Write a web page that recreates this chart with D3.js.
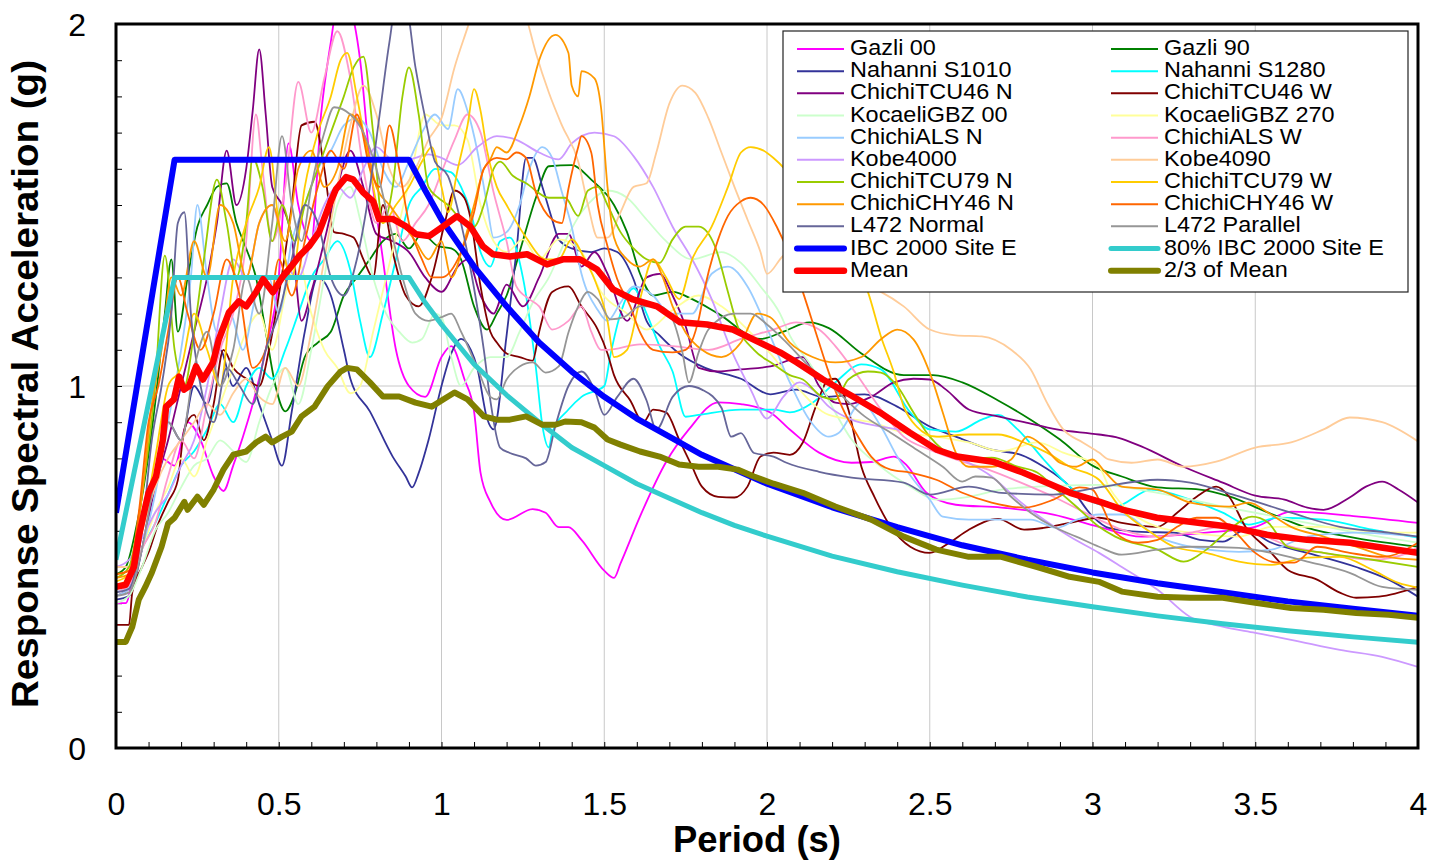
<!DOCTYPE html>
<html>
<head>
<meta charset="utf-8">
<script src="https://cdn.jsdelivr.net/npm/d3@7/dist/d3.min.js"></script>
<style>
  body { margin: 0; background: #fff; }
  svg { display: block; font-family: Arial, "Liberation Sans", sans-serif; }
  .axis path { display: none; }
  .axis line { stroke: #000; stroke-width: 1; }
  .axis text { font-size: 32px; fill: #000; }
  .grid line { stroke: #c8c8c8; stroke-width: 1; }
  .legend text { font-size: 21.5px; fill: #000; }
  .title { font-size: 36px; font-weight: bold; fill: #000; }
</style>
</head>
<body>
<div id="chart"></div>
<script>
// [period (s), spectral acceleration (g)]
const gazli00 = [[0,0.40],[0.03,0.40],[0.06,0.52],[0.1,0.68],[0.14,0.8],[0.18,0.78],[0.22,0.9],[0.26,0.85],[0.3,0.75],[0.33,0.71],[0.36,0.78],[0.39,0.86],[0.42,0.95],[0.46,1.1],[0.5,1.3],[0.53,1.67],[0.56,1.5],[0.6,1.4],[0.63,1.75],[0.66,1.95],[0.69,2.1],[0.72,2.05],[0.75,1.9],[0.78,1.62],[0.82,1.35],[0.86,1.1],[0.9,1.0],[0.95,0.97],[1.0,1.08],[1.03,1.11],[1.07,1.02],[1.1,0.93],[1.12,0.76],[1.15,0.68],[1.2,0.63],[1.28,0.66],[1.32,0.65],[1.36,0.61],[1.39,0.61],[1.43,0.575],[1.5,0.49],[1.53,0.47],[1.55,0.51],[1.61,0.64],[1.69,0.79],[1.76,0.88],[1.85,0.955],[1.92,0.95],[2.01,0.927],[2.07,0.88],[2.16,0.816],[2.26,0.788],[2.32,0.79],[2.39,0.805],[2.43,0.78],[2.49,0.705],[2.58,0.672],[2.72,0.664],[2.88,0.645],[3.02,0.611],[3.15,0.584],[3.35,0.595],[3.5,0.611],[3.61,0.653],[3.81,0.64],[4.0,0.622]];
const gazli90 = [[0,0.48],[0.03,0.5],[0.06,0.6],[0.09,0.75],[0.12,0.95],[0.15,1.2],[0.17,1.35],[0.19,1.15],[0.22,1.3],[0.25,1.44],[0.28,1.5],[0.31,1.55],[0.34,1.56],[0.37,1.45],[0.4,1.38],[0.43,1.3],[0.46,1.15],[0.49,1.0],[0.52,0.93],[0.55,0.98],[0.58,1.08],[0.62,1.12],[0.66,1.15],[0.7,1.25],[0.74,1.3],[0.78,1.35],[0.82,1.4],[0.86,1.42],[0.9,1.38],[0.94,1.42],[0.99,1.386],[1.03,1.38],[1.06,1.35],[1.1,1.22],[1.14,1.156],[1.17,1.2],[1.2,1.25],[1.24,1.37],[1.29,1.52],[1.33,1.607],[1.4,1.61],[1.46,1.57],[1.53,1.5],[1.57,1.425],[1.61,1.31],[1.65,1.25],[1.71,1.26],[1.77,1.24],[1.85,1.2],[1.98,1.13],[2.05,1.15],[2.13,1.176],[2.19,1.16],[2.29,1.09],[2.42,1.03],[2.51,1.03],[2.6,1.01],[2.71,0.96],[2.81,0.907],[2.9,0.852],[3.0,0.78],[3.09,0.75],[3.2,0.72],[3.33,0.714],[3.42,0.695],[3.54,0.65],[3.66,0.608],[3.81,0.58],[4.0,0.556]];
const nahanniS1010 = [[0,0.41],[0.04,0.42],[0.08,0.55],[0.12,0.75],[0.16,0.9],[0.2,0.85],[0.24,1.0],[0.28,0.95],[0.32,1.1],[0.36,1.0],[0.4,1.05],[0.44,0.95],[0.48,0.85],[0.51,0.78],[0.54,0.93],[0.58,1.15],[0.62,1.3],[0.66,1.25],[0.7,1.1],[0.72,1.02],[0.78,0.93],[0.85,0.805],[0.89,0.75],[0.91,0.72],[0.93,0.76],[0.96,0.85],[1.0,1.0],[1.03,1.09],[1.06,1.13],[1.09,1.1],[1.11,1.05],[1.14,0.91],[1.16,0.88],[1.2,1.14],[1.23,1.37],[1.26,1.63],[1.28,1.63],[1.31,1.55],[1.34,1.46],[1.36,1.405],[1.4,1.38],[1.46,1.37],[1.5,1.38],[1.54,1.37],[1.59,1.295],[1.63,1.18],[1.67,1.14],[1.73,1.09],[1.81,1.05],[1.92,1.02],[2.01,0.977],[2.09,0.99],[2.17,0.97],[2.3,0.977],[2.4,0.943],[2.5,0.888],[2.58,0.86],[2.69,0.824],[2.78,0.81],[2.85,0.777],[2.93,0.722],[3.0,0.64],[3.05,0.608],[3.15,0.597],[3.25,0.595],[3.33,0.575],[3.4,0.57],[3.47,0.603],[3.55,0.567],[3.66,0.539],[3.81,0.5],[3.91,0.465],[4.0,0.418]];
const nahanniS1280 = [[0,0.43],[0.04,0.45],[0.08,0.55],[0.12,0.62],[0.16,0.7],[0.2,0.78],[0.24,0.82],[0.28,0.88],[0.32,0.95],[0.36,0.9],[0.4,1.0],[0.44,1.05],[0.48,1.02],[0.52,1.1],[0.56,1.2],[0.6,1.3],[0.64,1.35],[0.68,1.4],[0.72,1.32],[0.75,1.18],[0.78,1.08],[0.82,1.2],[0.86,1.35],[0.9,1.5],[0.94,1.55],[0.98,1.6],[1.03,1.59],[1.06,1.55],[1.09,1.48],[1.12,1.37],[1.15,1.33],[1.18,1.4],[1.21,1.41],[1.25,1.3],[1.29,1.05],[1.31,0.89],[1.33,0.83],[1.34,0.87],[1.39,0.935],[1.43,0.97],[1.5,1.0],[1.52,1.09],[1.55,1.2],[1.59,1.27],[1.63,1.2],[1.67,1.11],[1.71,1.04],[1.75,0.915],[1.79,0.92],[1.92,0.935],[2.02,0.935],[2.07,0.927],[2.14,0.954],[2.21,1.01],[2.29,1.06],[2.35,1.046],[2.44,0.927],[2.5,0.88],[2.58,0.874],[2.66,0.907],[2.71,0.92],[2.77,0.88],[2.85,0.797],[2.93,0.722],[3.0,0.68],[3.07,0.667],[3.18,0.714],[3.3,0.686],[3.4,0.65],[3.48,0.617],[3.57,0.636],[3.71,0.631],[3.86,0.603],[4.0,0.581]];
const chichiTCU46N = [[0,0.42],[0.04,0.44],[0.08,0.55],[0.12,0.72],[0.16,0.85],[0.2,1.0],[0.24,1.15],[0.28,1.3],[0.31,1.45],[0.34,1.65],[0.37,1.5],[0.4,1.6],[0.42,1.76],[0.44,1.93],[0.46,1.75],[0.48,1.55],[0.51,1.5],[0.54,1.41],[0.57,1.18],[0.6,1.26],[0.64,1.4],[0.68,1.55],[0.72,1.65],[0.76,1.55],[0.8,1.42],[0.85,1.4],[0.9,1.37],[0.95,1.3],[1.0,1.26],[1.05,1.33],[1.08,1.35],[1.12,1.25],[1.16,1.2],[1.2,1.28],[1.25,1.22],[1.3,1.3],[1.36,1.42],[1.39,1.42],[1.43,1.33],[1.47,1.37],[1.51,1.31],[1.57,1.18],[1.63,1.3],[1.67,1.31],[1.71,1.25],[1.75,1.165],[1.79,1.05],[1.85,1.04],[1.92,1.046],[2.01,1.054],[2.11,1.08],[2.16,1.0],[2.21,0.954],[2.25,0.95],[2.32,0.97],[2.39,1.01],[2.45,1.02],[2.5,1.018],[2.55,0.99],[2.62,0.935],[2.71,0.916],[2.79,0.9],[2.89,0.88],[3.02,0.866],[3.08,0.857],[3.15,0.833],[3.28,0.777],[3.4,0.733],[3.5,0.697],[3.59,0.686],[3.66,0.664],[3.71,0.658],[3.79,0.692],[3.84,0.722],[3.89,0.736],[3.94,0.714],[4.0,0.678]];
const chichiTCU46W = [[0,0.34],[0.04,0.34],[0.05,0.43],[0.08,0.5],[0.1,0.54],[0.13,0.62],[0.16,0.68],[0.19,0.74],[0.21,0.88],[0.24,0.92],[0.27,0.85],[0.3,0.95],[0.33,1.1],[0.36,1.05],[0.4,1.02],[0.44,1.0],[0.47,1.1],[0.5,1.25],[0.54,1.5],[0.57,1.72],[0.61,1.73],[0.64,1.6],[0.67,1.425],[0.7,1.42],[0.73,1.41],[0.76,1.35],[0.79,1.3],[0.82,1.5],[0.85,1.37],[0.89,1.25],[0.93,1.22],[0.97,1.3],[1.01,1.45],[1.04,1.54],[1.07,1.52],[1.09,1.46],[1.12,1.275],[1.15,1.15],[1.17,1.12],[1.2,1.09],[1.24,1.08],[1.28,1.07],[1.3,1.15],[1.34,1.26],[1.39,1.275],[1.43,1.22],[1.48,1.156],[1.51,1.09],[1.53,1.03],[1.58,0.96],[1.62,0.9],[1.65,0.935],[1.69,0.927],[1.73,0.852],[1.77,0.777],[1.8,0.722],[1.85,0.694],[1.9,0.692],[1.94,0.722],[1.98,0.805],[2.02,0.816],[2.07,0.81],[2.11,0.844],[2.15,0.943],[2.19,1.018],[2.21,1.02],[2.25,0.935],[2.29,0.777],[2.33,0.694],[2.38,0.611],[2.44,0.556],[2.5,0.539],[2.56,0.567],[2.62,0.603],[2.71,0.633],[2.79,0.603],[2.85,0.608],[2.93,0.622],[3.02,0.636],[3.09,0.622],[3.2,0.611],[3.26,0.65],[3.32,0.694],[3.38,0.722],[3.42,0.694],[3.47,0.611],[3.54,0.548],[3.6,0.492],[3.69,0.465],[3.76,0.429],[3.81,0.415],[3.88,0.418],[4.0,0.445]];
const kocaeliGBZ00 = [[0,0.4],[0.04,0.42],[0.08,0.5],[0.12,0.6],[0.16,0.65],[0.2,0.72],[0.24,0.78],[0.28,0.8],[0.32,0.85],[0.36,0.82],[0.4,0.79],[0.44,0.9],[0.48,1.0],[0.52,1.05],[0.56,0.95],[0.6,1.1],[0.64,1.3],[0.68,1.5],[0.72,1.55],[0.75,1.46],[0.79,1.3],[0.83,1.2],[0.87,1.15],[0.91,1.12],[0.94,1.13],[0.98,1.2],[1.0,1.19],[1.03,1.08],[1.06,1.0],[1.1,1.05],[1.15,1.08],[1.2,1.08],[1.24,1.15],[1.28,1.23],[1.33,1.3],[1.38,1.4],[1.43,1.48],[1.47,1.52],[1.51,1.54],[1.57,1.52],[1.63,1.46],[1.69,1.4],[1.77,1.35],[1.86,1.37],[1.92,1.34],[1.98,1.275],[2.04,1.2],[2.07,1.14],[2.14,1.05],[2.2,0.943],[2.26,0.852],[2.35,0.777],[2.44,0.722],[2.52,0.686],[2.62,0.694],[2.72,0.714],[2.83,0.722],[3.02,0.727],[3.2,0.705],[3.4,0.667],[3.61,0.631],[3.81,0.595],[4.0,0.567]];
const kocaeliGBZ270 = [[0,0.45],[0.04,0.47],[0.08,0.55],[0.12,0.65],[0.16,0.72],[0.2,0.8],[0.24,0.75],[0.28,0.85],[0.32,0.95],[0.36,1.05],[0.4,1.15],[0.44,1.2],[0.48,1.1],[0.52,1.25],[0.56,1.35],[0.6,1.2],[0.64,1.1],[0.68,1.05],[0.72,0.98],[0.75,1.0],[0.79,1.15],[0.83,1.3],[0.87,1.45],[0.91,1.6],[0.95,1.75],[1.0,1.72],[1.04,1.72],[1.08,1.68],[1.12,1.5],[1.16,1.4],[1.2,1.37],[1.25,1.405],[1.3,1.35],[1.36,1.405],[1.43,1.37],[1.49,1.26],[1.57,1.2],[1.63,1.156],[1.71,1.21],[1.79,1.25],[1.86,1.22],[1.94,1.156],[2.01,1.09],[2.09,1.0],[2.19,0.92],[2.32,0.9],[2.42,0.871],[2.52,0.86],[2.62,0.844],[2.72,0.82],[2.83,0.844],[2.91,0.816],[3.02,0.777],[3.05,0.722],[3.12,0.65],[3.2,0.611],[3.3,0.595],[3.45,0.584],[3.55,0.611],[3.71,0.611],[3.86,0.598],[4.0,0.595]];
const chichiALSN = [[0,0.42],[0.04,0.44],[0.08,0.55],[0.12,0.7],[0.16,0.9],[0.2,1.1],[0.23,1.3],[0.25,1.5],[0.28,1.3],[0.31,1.15],[0.35,1.2],[0.39,1.1],[0.43,1.25],[0.47,1.3],[0.5,1.2],[0.54,1.4],[0.58,1.5],[0.62,1.6],[0.66,1.65],[0.7,1.72],[0.74,1.74],[0.78,1.7],[0.82,1.6],[0.86,1.55],[0.9,1.62],[0.94,1.7],[0.98,1.75],[1.02,1.71],[1.05,1.82],[1.08,1.76],[1.11,1.65],[1.14,1.5],[1.16,1.41],[1.2,1.425],[1.24,1.5],[1.27,1.6],[1.31,1.66],[1.34,1.63],[1.37,1.535],[1.4,1.44],[1.43,1.31],[1.48,1.21],[1.51,1.18],[1.55,1.23],[1.59,1.275],[1.65,1.25],[1.7,1.2],[1.77,1.2],[1.83,1.31],[1.88,1.33],[1.94,1.275],[2.0,1.16],[2.07,1.01],[2.13,0.907],[2.19,0.86],[2.22,0.87],[2.29,0.954],[2.35,0.888],[2.4,0.805],[2.45,0.741],[2.5,0.686],[2.54,0.639],[2.62,0.631],[2.72,0.631],[2.81,0.631],[2.89,0.608],[2.95,0.63],[3.02,0.645],[3.09,0.645],[3.2,0.584],[3.3,0.556],[3.45,0.542],[3.55,0.548],[3.66,0.584],[3.81,0.595],[4.0,0.584]];
const chichiALSW = [[0,0.43],[0.04,0.45],[0.08,0.55],[0.12,0.62],[0.16,0.75],[0.2,0.85],[0.24,0.8],[0.28,0.95],[0.32,1.1],[0.36,1.2],[0.4,1.4],[0.43,1.75],[0.45,1.6],[0.48,1.4],[0.52,1.55],[0.56,1.84],[0.6,1.7],[0.64,1.85],[0.68,1.98],[0.72,1.85],[0.76,1.6],[0.8,1.45],[0.84,1.5],[0.88,1.4],[0.92,1.45],[0.96,1.5],[1.0,1.59],[1.04,1.68],[1.08,1.75],[1.12,1.7],[1.16,1.535],[1.2,1.4],[1.23,1.275],[1.27,1.24],[1.3,1.22],[1.34,1.156],[1.39,1.18],[1.43,1.22],[1.46,1.15],[1.49,1.1],[1.51,1.1],[1.61,1.115],[1.71,1.11],[1.82,1.1],[1.92,1.13],[2.02,1.156],[2.09,1.176],[2.16,1.156],[2.21,1.11],[2.28,1.026],[2.35,0.935],[2.42,0.86],[2.5,0.824],[2.58,0.797],[2.68,0.769],[2.78,0.733],[2.88,0.694],[3.02,0.631],[3.09,0.603],[3.2,0.584],[3.3,0.595],[3.4,0.611],[3.5,0.595],[3.61,0.556],[3.71,0.539],[3.86,0.52],[3.97,0.539],[4.0,0.556]];
const kobe4000 = [[0,0.5],[0.04,0.52],[0.08,0.58],[0.12,0.65],[0.16,0.7],[0.2,0.78],[0.24,0.85],[0.28,1.0],[0.32,1.2],[0.36,1.35],[0.4,1.3],[0.44,1.45],[0.48,1.5],[0.52,1.35],[0.56,1.3],[0.6,1.4],[0.64,1.5],[0.68,1.55],[0.72,1.52],[0.76,1.6],[0.8,1.66],[0.84,1.63],[0.88,1.62],[0.92,1.63],[0.96,1.64],[1.0,1.63],[1.05,1.61],[1.11,1.66],[1.17,1.69],[1.23,1.68],[1.3,1.645],[1.36,1.626],[1.4,1.67],[1.47,1.7],[1.53,1.69],[1.59,1.635],[1.65,1.55],[1.71,1.44],[1.77,1.35],[1.83,1.24],[1.89,1.1],[1.95,0.99],[2.0,0.91],[2.05,0.97],[2.1,1.01],[2.14,0.99],[2.19,0.943],[2.26,0.907],[2.35,0.888],[2.44,0.871],[2.52,0.833],[2.6,0.797],[2.69,0.75],[2.77,0.686],[2.85,0.631],[2.93,0.584],[3.02,0.539],[3.09,0.5],[3.2,0.437],[3.3,0.362],[3.4,0.335],[3.5,0.318],[3.61,0.299],[3.76,0.271],[3.89,0.252],[4.0,0.224]];
const kobe4090 = [[0,0.5],[0.04,0.5],[0.08,0.6],[0.12,0.72],[0.16,0.8],[0.2,0.85],[0.24,0.9],[0.28,0.95],[0.32,0.92],[0.36,0.98],[0.4,1.02],[0.44,0.97],[0.48,0.95],[0.52,1.05],[0.56,1.0],[0.6,1.15],[0.64,1.35],[0.68,1.55],[0.72,1.72],[0.76,1.83],[0.8,1.75],[0.84,1.6],[0.88,1.55],[0.92,1.6],[0.96,1.68],[1.0,1.74],[1.04,1.88],[1.08,1.99],[1.12,2.1],[1.2,2.15],[1.26,2.02],[1.29,1.92],[1.33,1.81],[1.37,1.72],[1.42,1.62],[1.45,1.5],[1.48,1.41],[1.51,1.41],[1.55,1.48],[1.59,1.55],[1.63,1.56],[1.66,1.645],[1.7,1.78],[1.74,1.83],[1.78,1.81],[1.82,1.74],[1.86,1.645],[1.9,1.55],[1.94,1.46],[1.98,1.37],[2.0,1.31],[2.05,1.36],[2.1,1.38],[2.2,1.33],[2.3,1.28],[2.35,1.26],[2.42,1.22],[2.5,1.156],[2.58,1.14],[2.66,1.137],[2.75,1.1],[2.81,1.046],[2.86,0.954],[2.91,0.88],[2.97,0.844],[3.02,0.816],[3.05,0.797],[3.12,0.788],[3.2,0.797],[3.28,0.777],[3.38,0.791],[3.5,0.83],[3.61,0.844],[3.71,0.88],[3.79,0.913],[3.89,0.9],[4.0,0.847]];
const chichiTCU79N = [[0,0.47],[0.04,0.5],[0.08,0.7],[0.12,1.0],[0.15,1.36],[0.18,1.1],[0.21,1.0],[0.24,1.15],[0.27,1.35],[0.31,1.57],[0.34,1.45],[0.37,1.3],[0.4,1.45],[0.42,1.63],[0.45,1.55],[0.48,1.4],[0.51,1.5],[0.55,1.4],[0.58,1.5],[0.62,1.6],[0.66,1.7],[0.7,1.8],[0.73,1.88],[0.76,1.91],[0.79,1.7],[0.82,1.45],[0.85,1.55],[0.88,1.8],[0.9,1.88],[0.93,1.75],[0.96,1.55],[0.99,1.52],[1.02,1.5],[1.06,1.46],[1.1,1.44],[1.13,1.5],[1.16,1.6],[1.18,1.62],[1.22,1.58],[1.26,1.56],[1.33,1.52],[1.38,1.52],[1.42,1.47],[1.45,1.54],[1.48,1.55],[1.51,1.5],[1.55,1.425],[1.59,1.38],[1.63,1.35],[1.67,1.34],[1.71,1.405],[1.75,1.44],[1.79,1.44],[1.84,1.386],[1.88,1.26],[1.91,1.165],[1.96,1.1],[2.02,1.06],[2.07,1.03],[2.11,1.018],[2.17,0.97],[2.21,0.963],[2.25,1.018],[2.31,1.04],[2.35,1.037],[2.4,1.0],[2.45,0.927],[2.5,0.86],[2.54,0.824],[2.6,0.797],[2.69,0.802],[2.77,0.777],[2.83,0.761],[2.89,0.714],[2.95,0.667],[3.02,0.611],[3.07,0.584],[3.2,0.548],[3.28,0.515],[3.35,0.548],[3.42,0.603],[3.49,0.639],[3.54,0.622],[3.6,0.556],[3.71,0.539],[3.86,0.52],[4.0,0.5]];
const chichiTCU79W = [[0,0.46],[0.04,0.48],[0.08,0.6],[0.12,0.8],[0.16,1.0],[0.2,1.05],[0.24,1.2],[0.28,1.1],[0.32,1.0],[0.36,1.3],[0.4,1.45],[0.44,1.55],[0.47,1.66],[0.5,1.45],[0.54,1.3],[0.58,1.55],[0.62,1.7],[0.66,1.8],[0.69,1.9],[0.71,1.92],[0.74,1.8],[0.78,1.6],[0.82,1.45],[0.86,1.5],[0.9,1.55],[0.94,1.62],[0.97,1.66],[1.0,1.55],[1.02,1.48],[1.05,1.6],[1.08,1.72],[1.1,1.82],[1.12,1.76],[1.14,1.65],[1.17,1.55],[1.2,1.5],[1.26,1.41],[1.32,1.35],[1.36,1.35],[1.4,1.405],[1.44,1.35],[1.47,1.295],[1.51,1.18],[1.53,1.08],[1.57,1.1],[1.61,1.24],[1.65,1.35],[1.69,1.3],[1.73,1.24],[1.77,1.35],[1.83,1.44],[1.88,1.55],[1.92,1.645],[1.95,1.66],[1.99,1.65],[2.02,1.63],[2.1,1.55],[2.2,1.4],[2.31,1.26],[2.35,1.137],[2.39,1.037],[2.42,0.943],[2.46,0.888],[2.52,0.86],[2.62,0.866],[2.71,0.866],[2.79,0.844],[2.86,0.816],[2.93,0.777],[3.02,0.741],[3.09,0.658],[3.18,0.595],[3.25,0.556],[3.35,0.539],[3.45,0.515],[3.55,0.506],[3.66,0.526],[3.76,0.528],[3.86,0.492],[3.94,0.456],[4.0,0.443]];
const chichiCHY46N = [[0,0.47],[0.04,0.48],[0.08,0.7],[0.11,0.95],[0.14,1.1],[0.17,1.3],[0.2,1.25],[0.24,1.4],[0.28,1.3],[0.32,1.5],[0.36,1.45],[0.4,1.3],[0.44,1.45],[0.48,1.5],[0.52,1.4],[0.56,1.6],[0.6,1.65],[0.64,1.55],[0.68,1.6],[0.72,1.75],[0.76,1.7],[0.8,1.55],[0.84,1.5],[0.88,1.45],[0.92,1.4],[0.96,1.35],[1.0,1.4],[1.03,1.3],[1.07,1.4],[1.1,1.5],[1.13,1.6],[1.15,1.626],[1.17,1.66],[1.2,1.645],[1.24,1.72],[1.27,1.8],[1.3,1.9],[1.35,1.97],[1.39,1.92],[1.4,1.83],[1.42,1.8],[1.43,1.87],[1.47,1.85],[1.49,1.77],[1.51,1.55],[1.53,1.41],[1.57,1.35],[1.61,1.33],[1.65,1.35],[1.68,1.3],[1.71,1.22],[1.75,1.148],[1.8,1.1],[1.86,1.08],[1.92,1.12],[1.97,1.2],[2.01,1.19],[2.07,1.12],[2.14,1.08],[2.21,1.065],[2.29,1.08],[2.35,1.129],[2.4,1.156],[2.45,1.129],[2.5,1.037],[2.54,0.927],[2.58,0.816],[2.62,0.777],[2.69,0.777],[2.75,0.797],[2.8,0.86],[2.85,0.833],[2.9,0.788],[2.95,0.777],[3.0,0.797],[3.04,0.761],[3.09,0.722],[3.2,0.714],[3.3,0.678],[3.42,0.667],[3.48,0.678],[3.54,0.65],[3.61,0.611],[3.71,0.584],[3.81,0.556],[3.91,0.528],[4.0,0.52]];
const chichiCHY46W = [[0,0.48],[0.04,0.49],[0.07,0.65],[0.1,0.9],[0.13,1.0],[0.16,1.15],[0.19,1.3],[0.22,1.2],[0.26,1.1],[0.3,1.2],[0.34,1.35],[0.38,1.25],[0.42,1.05],[0.46,1.1],[0.5,1.35],[0.54,1.25],[0.58,1.4],[0.62,1.55],[0.66,1.65],[0.7,1.6],[0.74,1.75],[0.78,1.6],[0.81,1.55],[0.84,1.72],[0.87,1.6],[0.9,1.45],[0.94,1.35],[0.97,1.3],[1.0,1.3],[1.05,1.35],[1.1,1.48],[1.13,1.6],[1.17,1.63],[1.2,1.626],[1.23,1.645],[1.26,1.63],[1.29,1.535],[1.34,1.46],[1.37,1.45],[1.39,1.545],[1.42,1.66],[1.43,1.69],[1.46,1.645],[1.48,1.5],[1.51,1.386],[1.54,1.295],[1.58,1.22],[1.61,1.148],[1.65,1.1],[1.71,1.093],[1.75,1.1],[1.79,1.184],[1.81,1.275],[1.85,1.405],[1.88,1.47],[1.92,1.51],[1.95,1.52],[1.99,1.5],[2.03,1.44],[2.07,1.36],[2.11,1.26],[2.15,1.148],[2.19,1.037],[2.23,0.943],[2.28,0.86],[2.32,0.805],[2.38,0.769],[2.44,0.761],[2.52,0.741],[2.6,0.705],[2.69,0.678],[2.79,0.664],[2.88,0.686],[2.96,0.72],[3.0,0.714],[3.03,0.667],[3.07,0.595],[3.14,0.567],[3.2,0.575],[3.26,0.611],[3.32,0.636],[3.38,0.636],[3.44,0.595],[3.5,0.539],[3.57,0.512],[3.62,0.512],[3.69,0.556],[3.79,0.539],[3.89,0.528],[4.0,0.567]];
const l472Normal = [[0,0.43],[0.04,0.44],[0.08,0.6],[0.11,0.85],[0.14,1.0],[0.17,1.2],[0.19,1.45],[0.21,1.48],[0.23,1.2],[0.26,1.0],[0.3,0.9],[0.34,1.05],[0.38,1.0],[0.42,0.95],[0.46,1.1],[0.5,1.2],[0.54,1.35],[0.58,1.5],[0.62,1.45],[0.66,1.3],[0.7,1.25],[0.74,1.35],[0.78,1.55],[0.81,1.75],[0.84,1.95],[0.86,2.05],[0.89,2.05],[0.92,1.88],[0.95,1.74],[0.98,1.62],[1.02,1.58],[1.06,1.45],[1.1,1.27],[1.13,1.1],[1.15,0.96],[1.18,0.83],[1.21,0.815],[1.26,0.8],[1.29,0.78],[1.32,0.79],[1.35,0.89],[1.39,1.0],[1.43,1.04],[1.47,0.99],[1.5,0.92],[1.54,0.97],[1.59,1.02],[1.63,0.96],[1.66,0.88],[1.71,0.97],[1.76,1.0],[1.8,0.99],[1.86,0.94],[1.89,0.86],[1.92,0.87],[1.96,0.815],[2.02,0.805],[2.06,0.788],[2.16,0.763],[2.26,0.747],[2.42,0.733],[2.5,0.7],[2.62,0.722],[2.72,0.705],[2.88,0.7],[3.02,0.72],[3.2,0.741],[3.3,0.733],[3.45,0.695],[3.61,0.65],[3.76,0.611],[3.91,0.595],[4.0,0.584]];
const l472Parallel = [[0,0.42],[0.04,0.43],[0.08,0.55],[0.12,0.75],[0.16,0.9],[0.2,0.85],[0.24,1.05],[0.28,1.15],[0.32,1.0],[0.36,1.1],[0.4,1.3],[0.44,1.2],[0.48,1.45],[0.51,1.69],[0.54,1.5],[0.57,1.4],[0.6,1.55],[0.64,1.7],[0.67,1.77],[0.72,1.75],[0.76,1.7],[0.8,1.6],[0.84,1.45],[0.88,1.3],[0.92,1.2],[0.96,1.18],[1.0,1.19],[1.03,1.2],[1.06,1.15],[1.11,1.05],[1.15,0.97],[1.17,0.963],[1.2,1.018],[1.24,1.054],[1.28,1.065],[1.32,1.037],[1.36,1.054],[1.39,1.148],[1.42,1.22],[1.45,1.26],[1.48,1.24],[1.52,1.184],[1.56,1.19],[1.61,1.22],[1.67,1.22],[1.71,1.184],[1.74,1.093],[1.76,1.01],[1.79,1.093],[1.82,1.156],[1.9,1.2],[1.95,1.2],[2.0,1.17],[2.06,1.12],[2.13,1.054],[2.21,0.99],[2.3,0.916],[2.38,0.871],[2.46,0.824],[2.54,0.777],[2.6,0.736],[2.64,0.75],[2.69,0.747],[2.75,0.694],[2.81,0.65],[2.88,0.611],[2.95,0.584],[3.02,0.556],[3.09,0.534],[3.2,0.548],[3.3,0.556],[3.45,0.553],[3.55,0.539],[3.66,0.515],[3.79,0.484],[3.89,0.445],[4.0,0.437]];

// design spectrum (IBC 2000, site class E) and 80% of it
const ibcPeriods = [0,0.18,0.9,0.95,1.0,1.1,1.2,1.3,1.4,1.5,1.6,1.7,1.8,1.9,2.0,2.2,2.4,2.6,2.8,3.0,3.2,3.4,3.6,3.8,4.0];
const ibcSiteE = [0.65,1.625,1.625,1.54,1.46,1.33,1.22,1.12,1.04,0.97,0.91,0.86,0.81,0.77,0.73,0.665,0.61,0.56,0.52,0.485,0.455,0.43,0.405,0.385,0.365];
const ibc80 = [0.52,1.30,1.30,1.23,1.17,1.06,0.975,0.90,0.83,0.78,0.73,0.69,0.65,0.615,0.585,0.53,0.487,0.45,0.417,0.39,0.365,0.343,0.324,0.307,0.292];

const mean = [[0,0.445],[0.03,0.451],[0.055,0.50],[0.07,0.584],[0.086,0.65],[0.1,0.705],[0.123,0.75],[0.144,0.852],[0.154,0.943],[0.178,0.963],[0.194,1.026],[0.209,0.99],[0.224,0.999],[0.246,1.054],[0.267,1.018],[0.298,1.065],[0.316,1.129],[0.347,1.203],[0.378,1.234],[0.4,1.22],[0.43,1.259],[0.452,1.295],[0.482,1.259],[0.513,1.303],[0.531,1.322],[0.562,1.358],[0.593,1.386],[0.624,1.425],[0.654,1.497],[0.676,1.544],[0.707,1.577],[0.728,1.571],[0.759,1.535],[0.79,1.51],[0.808,1.461],[0.851,1.461],[0.891,1.441],[0.922,1.419],[0.962,1.414],[1.005,1.441],[1.048,1.469],[1.088,1.441],[1.127,1.386],[1.158,1.364],[1.21,1.358],[1.263,1.364],[1.324,1.336],[1.373,1.35],[1.425,1.35],[1.478,1.322],[1.527,1.267],[1.588,1.239],[1.662,1.22],[1.733,1.176],[1.816,1.17],[1.895,1.156],[1.978,1.12],[2.04,1.093],[2.092,1.065],[2.172,1.018],[2.264,0.971],[2.347,0.927],[2.439,0.871],[2.522,0.824],[2.584,0.805],[2.694,0.791],[2.786,0.761],[2.86,0.733],[2.931,0.705],[3.023,0.68],[3.094,0.658],[3.198,0.636],[3.3,0.625],[3.422,0.611],[3.536,0.589],[3.659,0.575],[3.791,0.567],[3.892,0.553],[4.0,0.539]];
const twoThirdsMean = [[0,0.293],[0.03,0.293],[0.05,0.335],[0.07,0.41],[0.09,0.445],[0.11,0.484],[0.14,0.556],[0.16,0.62],[0.18,0.636],[0.21,0.68],[0.22,0.658],[0.25,0.694],[0.27,0.672],[0.3,0.714],[0.33,0.769],[0.36,0.81],[0.4,0.819],[0.43,0.844],[0.46,0.86],[0.48,0.844],[0.51,0.86],[0.54,0.874],[0.57,0.916],[0.61,0.943],[0.65,0.999],[0.69,1.04],[0.71,1.05],[0.74,1.046],[0.78,1.01],[0.82,0.971],[0.87,0.971],[0.92,0.954],[0.97,0.943],[1.02,0.971],[1.04,0.982],[1.08,0.963],[1.13,0.916],[1.17,0.907],[1.21,0.907],[1.26,0.916],[1.31,0.893],[1.35,0.893],[1.38,0.902],[1.43,0.9],[1.47,0.885],[1.51,0.852],[1.55,0.838],[1.61,0.819],[1.67,0.805],[1.73,0.783],[1.79,0.777],[1.85,0.777],[1.91,0.769],[1.96,0.75],[2.02,0.73],[2.11,0.705],[2.21,0.667],[2.32,0.631],[2.42,0.584],[2.52,0.548],[2.62,0.528],[2.72,0.528],[2.83,0.5],[2.93,0.473],[3.02,0.459],[3.09,0.432],[3.2,0.418],[3.3,0.415],[3.4,0.415],[3.5,0.401],[3.61,0.387],[3.71,0.382],[3.81,0.373],[3.91,0.368],[4.0,0.36]];

const recordNames = ["Gazli 00","Gazli 90","Nahanni S1010","Nahanni S1280","ChichiTCU46 N","ChichiTCU46 W","KocaeliGBZ 00","KocaeliGBZ 270","ChichiALS N","ChichiALS W","Kobe4000","Kobe4090","ChichiTCU79 N","ChichiTCU79 W","ChichiCHY46 N","ChichiCHY46 W","L472 Normal","L472 Parallel"];
const records = [gazli00,gazli90,nahanniS1010,nahanniS1280,chichiTCU46N,chichiTCU46W,kocaeliGBZ00,kocaeliGBZ270,chichiALSN,chichiALSW,kobe4000,kobe4090,chichiTCU79N,chichiTCU79W,chichiCHY46N,chichiCHY46W,l472Normal,l472Parallel];
const summaryNames = ["IBC 2000 Site E","80% IBC 2000 Site E","Mean","2/3 of Mean"];

const xTickLabels = ["0","0.5","1","1.5","2","2.5","3","3.5","4"];
const yTickLabels = ["0","1","2"];

// Excel default palette
const recordColors = ["#ff00ff","#008000","#333399","#00ffff","#800080","#800000","#ccffcc","#ffff99","#99ccff","#ff99cc","#cc99ff","#ffcc99","#99cc00","#ffcc00","#ff9900","#ff6600","#666699","#969696"];
const summaryColors = ["#0000ff","#33cccc","#ff0000","#808000"];

function draw() {
  const width = 1445, height = 863;
  const plot = { left: 116, right: 1418, top: 24, bottom: 748 };

  const svg = d3.select("#chart").append("svg")
    .attr("width", width)
    .attr("height", height);

  const x = d3.scaleLinear().domain([0, 4]).range([plot.left, plot.right]);
  const y = d3.scaleLinear().domain([0, 2]).range([plot.bottom, plot.top]);

  svg.append("clipPath").attr("id", "plot-clip")
    .append("rect")
    .attr("x", plot.left).attr("y", plot.top)
    .attr("width", plot.right - plot.left).attr("height", plot.bottom - plot.top);

  //gridlines at the labelled values
  const grid = svg.append("g").attr("class", "grid");
  grid.selectAll(".vgrid")
    .data(d3.range(1, xTickLabels.length - 1))
    .enter().append("line")
    .attr("x1", i => x(+xTickLabels[i])).attr("x2", i => x(+xTickLabels[i]))
    .attr("y1", plot.top).attr("y2", plot.bottom);
  grid.selectAll(".hgrid")
    .data(d3.range(1, yTickLabels.length - 1))
    .enter().append("line")
    .attr("x1", plot.left).attr("x2", plot.right)
    .attr("y1", i => y(+yTickLabels[i])).attr("y2", i => y(+yTickLabels[i]));

  //axes, minor ticks every 0.1 pointing inward
  svg.append("g")
    .attr("class", "axis")
    .attr("transform", `translate(0,${plot.bottom})`)
    .call(d3.axisBottom(x)
      .tickValues(d3.range(41).map(i => i / 10))
      .tickSize(-6)
      .tickPadding(44)
      .tickFormat((d, i) => i % 5 === 0 ? xTickLabels[i / 5] : ""));

  svg.append("g")
    .attr("class", "axis")
    .attr("transform", `translate(${plot.left},0)`)
    .call(d3.axisLeft(y)
      .tickValues(d3.range(21).map(i => i / 10))
      .tickSize(-6)
      .tickPadding(30)
      .tickFormat((d, i) => i % 10 === 0 ? yTickLabels[i / 10] : ""))
    .selectAll("text").attr("dy", "0.37em");

  const lines = svg.append("g").attr("clip-path", "url(#plot-clip)");

  const recordLine = d3.line()
    .x(d => x(d[0]))
    .y(d => y(d[1]))
    .curve(d3.curveMonotoneX);

  lines.selectAll(".record")
    .data(records)
    .enter().append("path")
    .attr("class", "record")
    .attr("d", recordLine)
    .attr("fill", "none")
    .attr("stroke", (d, i) => recordColors[i])
    .attr("stroke-width", 1.8)
    .attr("stroke-linejoin", "round");

  const straight = d3.line().x(d => x(d[0])).y(d => y(d[1]));
  const summaries = [
    ibcPeriods.map((p, i) => [p, ibcSiteE[i]]),
    ibcPeriods.map((p, i) => [p, ibc80[i]]),
    mean,
    twoThirdsMean
  ];
  const summaryWidths = [6, 5, 6.5, 6];

  lines.selectAll(".summary")
    .data(summaries)
    .enter().append("path")
    .attr("class", "summary")
    .attr("d", straight)
    .attr("fill", "none")
    .attr("stroke", (d, i) => summaryColors[i])
    .attr("stroke-width", (d, i) => summaryWidths[i])
    .attr("stroke-linejoin", "round");

  //plot frame
  svg.append("rect")
    .attr("x", plot.left).attr("y", plot.top)
    .attr("width", plot.right - plot.left).attr("height", plot.bottom - plot.top)
    .attr("fill", "none")
    .attr("stroke", "#000")
    .attr("stroke-width", 3);

  //axis titles
  svg.append("text")
    .attr("class", "title")
    .attr("x", 757).attr("y", 852)
    .attr("text-anchor", "middle")
    .attr("textLength", 168).attr("lengthAdjust", "spacingAndGlyphs")
    .text("Period (s)");

  svg.append("text")
    .attr("class", "title")
    .attr("transform", "translate(38,384) rotate(-90)")
    .attr("text-anchor", "middle")
    .attr("textLength", 648).attr("lengthAdjust", "spacingAndGlyphs")
    .text("Response Spectral Acceleration (g)");

  //legend, filled row by row over two columns
  const legendNames = recordNames.concat(summaryNames);
  const legendColors = recordColors.concat(summaryColors);
  const legend = svg.append("g").attr("class", "legend");
  legend.append("rect")
    .attr("x", 783).attr("y", 31)
    .attr("width", 625).attr("height", 261)
    .attr("fill", "#fff")
    .attr("stroke", "#222")
    .attr("stroke-width", 1.2);

  const item = legend.selectAll(".item")
    .data(legendNames)
    .enter().append("g")
    .attr("class", "item")
    .attr("transform", (d, i) => `translate(${i % 2 ? 1111 : 797},${55 + Math.floor(i / 2) * 22.17})`);

  item.append("line")
    .attr("x1", 0).attr("x2", 47)
    .attr("y1", -6).attr("y2", -6)
    .attr("stroke", (d, i) => legendColors[i])
    .attr("stroke-width", (d, i) => i < records.length ? 2 : summaryWidths[i - records.length])
    .attr("stroke-linecap", (d, i) => i < records.length ? "butt" : "round");

  //slightly wide lettering, as in the source legend
  item.append("text")
    .attr("transform", "translate(53,0) scale(1.09,1)")
    .text(d => d);
}

draw();
</script>
</body>
</html>
